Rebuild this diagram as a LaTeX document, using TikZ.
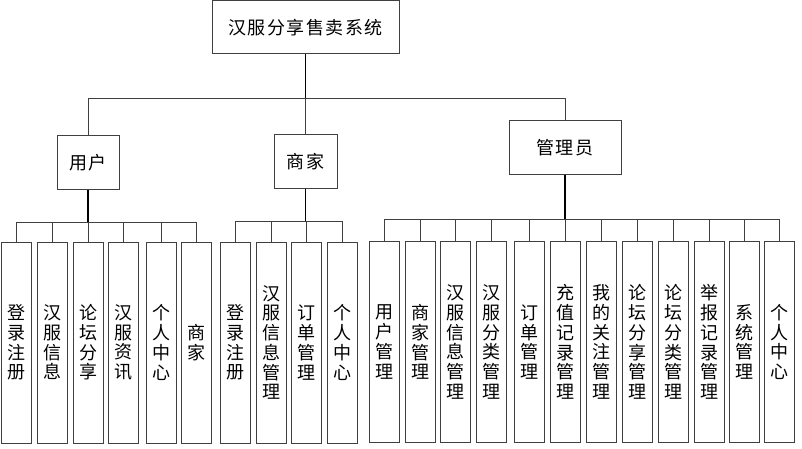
\documentclass[tikz,border=0pt]{standalone}
\usepackage{fontspec}
\newfontfamily\cjk[LetterSpace=8]{Noto Sans CJK SC}
\begin{document}
\begin{tikzpicture}[x=1pt,y=-1pt,
  box/.style={draw=black!75, line width=1pt, fill=white, inner sep=0pt,
    font=\cjk\fontsize{18}{19.7}\selectfont},
  leaf/.style={box, minimum width=30pt, minimum height=201pt, align=center},
  bar/.style={draw=black!75, line width=1pt},
  stem/.style={draw=black, line width=1.6pt}]
\useasboundingbox (0,0) rectangle (802,449);
% top levels
\node[box, minimum width=187pt, minimum height=53pt] (root) at (305.5,27.5) {汉服分享售卖系统};
\node[box, minimum width=62pt, minimum height=53pt] (user) at (88,162.5) {用户};
\node[box, minimum width=63pt, minimum height=53pt] (merchant) at (305.5,161.5) {商家};
\node[box, minimum width=112pt, minimum height=53pt] (admin) at (565,147.5) {管理员};
\coordinate (bus) at (305.5,99);
\draw[stem] (root.south) -- (bus);
\draw[bar] (bus) -| (user.north);
\draw[bar] (bus) -| (admin.north);
\draw[bar] (bus) -- (merchant.north);
% buses
\coordinate (ubus) at (88,222);
\coordinate (mbus) at (305.5,221);
\coordinate (abus) at (565,219);
\draw[stem] (user.south) -- (ubus);
\draw[stem] (merchant.south) -- (mbus);
\draw[stem] (admin.south) -- (abus);
% user leaves
\foreach \x/\t/\n in {16/登\\录\\注\\册/u1, 52/汉\\服\\信\\息/u2, 88/论\\坛\\分\\享/u3,
  123/汉\\服\\资\\讯/u4, 161/个\\人\\中\\心/u5, 196/商\\家/u6}{
  \node[leaf] (\n) at (\x,342.5) {\t};
  \draw[bar] (\n.north) |- (ubus);
}
% merchant leaves
\foreach \x/\t/\n in {235/登\\录\\注\\册/m1, 271/汉\\服\\信\\息\\管\\理/m2,
  306/订\\单\\管\\理/m3, 342/个\\人\\中\\心/m4}{
  \node[leaf] (\n) at (\x,342.5) {\t};
  \draw[bar] (\n.north) |- (mbus);
}
% admin leaves
\foreach \x/\t/\n in {384/用\\户\\管\\理/a1, 420/商\\家\\管\\理/a2,
  455/汉\\服\\信\\息\\管\\理/a3, 491/汉\\服\\分\\类\\管\\理/a4,
  529/订\\单\\管\\理/a5, 565/充\\值\\记\\录\\管\\理/a6,
  601/我\\的\\关\\注\\管\\理/a7, 637/论\\坛\\分\\享\\管\\理/a8,
  673/论\\坛\\分\\类\\管\\理/a9, 709/举\\报\\记\\录\\管\\理/a10,
  744/系\\统\\管\\理/a11, 779/个\\人\\中\\心/a12}{
  \node[leaf] (\n) at (\x,342) {\t};
  \draw[bar] (\n.north) |- (abus);
}
\end{tikzpicture}
\end{document}
